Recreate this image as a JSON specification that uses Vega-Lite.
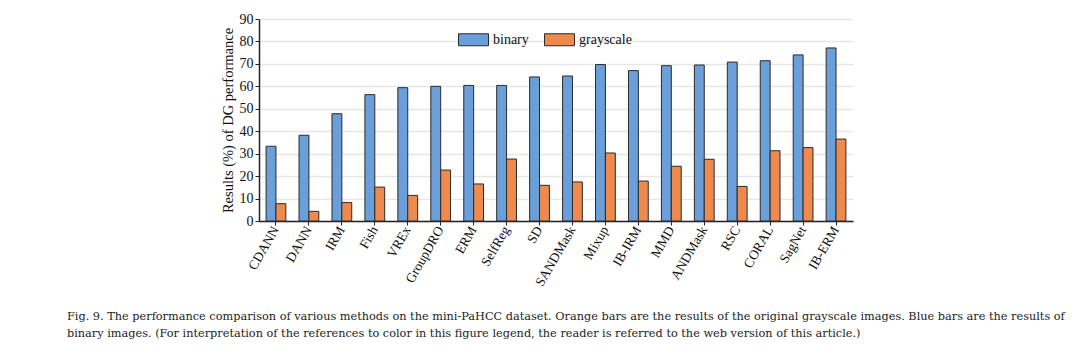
{
  "$schema": "https://vega.github.io/schema/vega-lite/v6.json",
  "width": 594,
  "height": 202,
  "autosize": {"type": "none"},
  "padding": {"left": 259, "top": 19, "right": 227, "bottom": 137},
  "background": "white",
  "title": {
    "text": ["Fig. 9. The performance comparison of various methods on the mini-PaHCC dataset. Orange bars are the results of the original grayscale images. Blue bars are the results of", "binary images. (For interpretation of the references to color in this figure legend, the reader is referred to the web version of this article.)"],
    "orient": "bottom",
    "anchor": "start",
    "dx": -153,
    "offset": 23,
    "font": "DejaVu Serif",
    "fontSize": 11.3,
    "fontWeight": "normal",
    "color": "#222",
    "lineHeight": 17
  },
  "data": {
    "values": [
      {"method": "CDANN", "type": "binary", "value": 33.3},
      {"method": "CDANN", "type": "grayscale", "value": 7.7},
      {"method": "DANN", "type": "binary", "value": 38.2},
      {"method": "DANN", "type": "grayscale", "value": 4.3},
      {"method": "IRM", "type": "binary", "value": 47.8},
      {"method": "IRM", "type": "grayscale", "value": 8.2},
      {"method": "Fish", "type": "binary", "value": 56.3},
      {"method": "Fish", "type": "grayscale", "value": 15.1},
      {"method": "VREx", "type": "binary", "value": 59.4},
      {"method": "VREx", "type": "grayscale", "value": 11.4},
      {"method": "GroupDRO", "type": "binary", "value": 60.0},
      {"method": "GroupDRO", "type": "grayscale", "value": 22.7},
      {"method": "ERM", "type": "binary", "value": 60.4},
      {"method": "ERM", "type": "grayscale", "value": 16.5},
      {"method": "SelfReg", "type": "binary", "value": 60.4},
      {"method": "SelfReg", "type": "grayscale", "value": 27.6},
      {"method": "SD", "type": "binary", "value": 64.2},
      {"method": "SD", "type": "grayscale", "value": 15.9},
      {"method": "SANDMask", "type": "binary", "value": 64.6},
      {"method": "SANDMask", "type": "grayscale", "value": 17.4},
      {"method": "Mixup", "type": "binary", "value": 69.7},
      {"method": "Mixup", "type": "grayscale", "value": 30.3},
      {"method": "IB-IRM", "type": "binary", "value": 67.0},
      {"method": "IB-IRM", "type": "grayscale", "value": 17.8},
      {"method": "MMD", "type": "binary", "value": 69.2},
      {"method": "MMD", "type": "grayscale", "value": 24.4},
      {"method": "ANDMask", "type": "binary", "value": 69.5},
      {"method": "ANDMask", "type": "grayscale", "value": 27.5},
      {"method": "RSC", "type": "binary", "value": 70.8},
      {"method": "RSC", "type": "grayscale", "value": 15.4},
      {"method": "CORAL", "type": "binary", "value": 71.4},
      {"method": "CORAL", "type": "grayscale", "value": 31.3},
      {"method": "SagNet", "type": "binary", "value": 74.0},
      {"method": "SagNet", "type": "grayscale", "value": 32.7},
      {"method": "IB-ERM", "type": "binary", "value": 77.1},
      {"method": "IB-ERM", "type": "grayscale", "value": 36.5}
    ]
  },
  "mark": {"type": "bar", "stroke": "#2a2a2a", "strokeWidth": 1},
  "encoding": {
    "x": {
      "field": "method",
      "type": "nominal",
      "sort": null,
      "scale": {"paddingInner": 0.4, "paddingOuter": 0.215},
      "axis": {
        "title": null,
        "labelAngle": -60,
        "labelFont": "Liberation Serif",
        "labelFontSize": 13.5,
        "labelColor": "#111",
        "domainColor": "#222",
        "domainWidth": 1.5,
        "tickColor": "#222",
        "tickSize": 4,
        "labelPadding": 2
      }
    },
    "xOffset": {"field": "type", "type": "nominal", "scale": {"paddingInner": 0, "paddingOuter": 0}},
    "y": {
      "field": "value",
      "type": "quantitative",
      "scale": {"domain": [0, 90]},
      "axis": {
        "title": "Results (%) of DG performance",
        "titleFont": "Liberation Serif",
        "titleFontSize": 14.5,
        "titleFontWeight": "normal",
        "titleColor": "#111",
        "titlePadding": 4,
        "labelFont": "Liberation Serif",
        "labelFontSize": 14,
        "labelColor": "#111",
        "values": [0, 10, 20, 30, 40, 50, 60, 70, 80, 90],
        "domainColor": "#222",
        "domainWidth": 1.5,
        "tickColor": "#222",
        "tickSize": 4,
        "gridColor": "#e6e6e6",
        "gridWidth": 1.5
      }
    },
    "color": {
      "field": "type",
      "type": "nominal",
      "scale": {"domain": ["binary", "grayscale"], "range": ["#6a9fda", "#ef8a4e"]},
      "legend": {
        "title": null,
        "orient": "none",
        "legendX": 199,
        "legendY": 5,
        "direction": "horizontal",
        "columns": 2,
        "columnPadding": 13,
        "symbolType": "M-1,-0.4H1V0.4H-1Z",
        "symbolSize": 900,
        "symbolStrokeColor": "#2a2a2a",
        "symbolStrokeWidth": 1,
        "labelFont": "Liberation Serif",
        "labelFontSize": 14,
        "labelColor": "#111",
        "labelOffset": 4
      }
    }
  },
  "config": {"view": {"stroke": null}}
}
